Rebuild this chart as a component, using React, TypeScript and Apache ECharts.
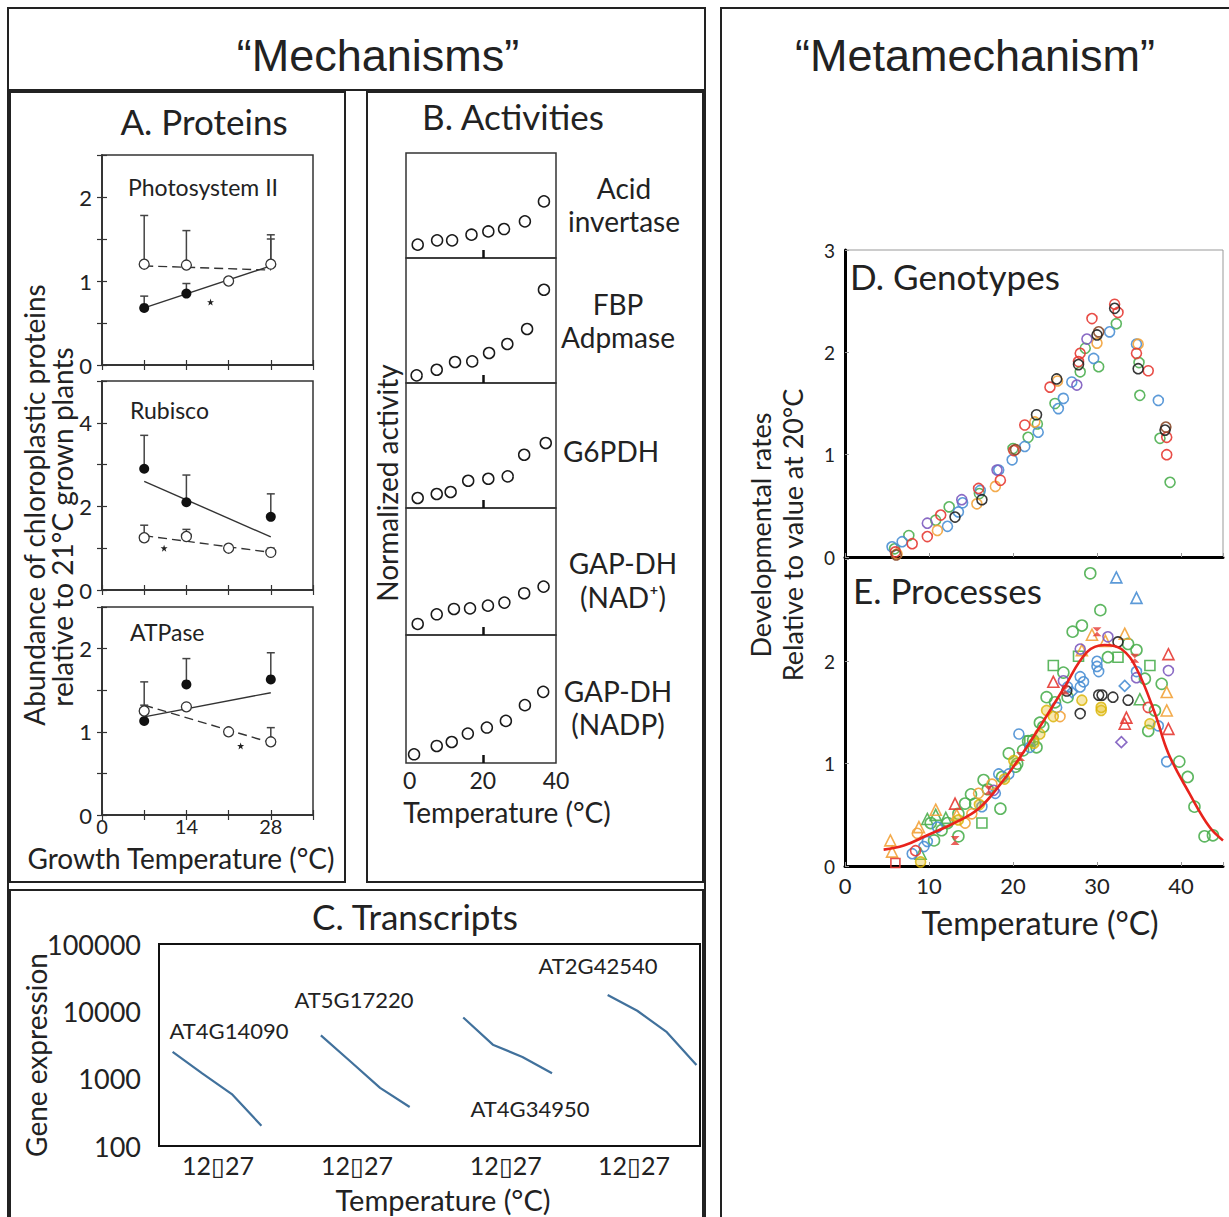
import React, { useEffect, useRef } from 'react';
import * as echarts from 'echarts';

const FONT = 'Lato, "Open Sans", sans-serif';
const ARIAL = '"Liberation Sans", Arial, sans-serif';
const INK = '#222';
const STAR = 'path://M5,0L6.2,3.6L10,3.6L7,5.9L8.1,9.5L5,7.3L1.9,9.5L3,5.9L0,3.6L3.8,3.6Z';
const HOURGLASS = 'path://M0,0L10,0L0,10L10,10Z';

// ---------- Panel A: Proteins ----------
const aXLabels = [0, 14, 28];
const psFilled = [[7, 0.68], [14, 0.85]];
const psOpen = [[7, 1.2], [14, 1.19], [21, 1.0], [28, 1.2]];
const psErr = [[7, 1.2, 1.78], [14, 1.19, 1.6], [28, 1.2, 1.55], [28, 1.2, 1.5], [7, 0.68, 0.82], [14, 0.85, 0.97]];
const psSolid = [[7, 0.68], [28, 1.18]];
const psDashed = [[7, 1.18], [28, 1.13]];
const psStar = [[18, 0.75]];
const psYLabels = [0, 1, 2];

const rubFilled = [[7, 2.9], [14, 2.1], [28, 1.75]];
const rubOpen = [[7, 1.25], [14, 1.28], [21, 1.0], [28, 0.9]];
const rubErr = [[7, 2.9, 3.7], [14, 2.1, 2.75], [28, 1.75, 2.3], [7, 1.25, 1.55], [14, 1.28, 1.45], [28, 0.9, 1.0]];
const rubSolid = [[7, 2.6], [28, 1.27]];
const rubDashed = [[7, 1.3], [28, 0.9]];
const rubStar = [[10.3, 1.0]];
const rubYLabels = [0, 2, 4];

const atpFilled = [[7, 1.13], [14, 1.57], [28, 1.63]];
const atpOpen = [[7, 1.25], [14, 1.3], [21, 1.0], [28, 0.88]];
const atpErr = [[7, 1.13, 1.6], [14, 1.57, 1.88], [28, 1.63, 1.95], [7, 1.25, 1.32], [28, 0.88, 1.05]];
const atpSolid = [[7, 1.18], [28, 1.47]];
const atpDashed = [[7, 1.32], [28, 0.87]];
const atpStar = [[23, 0.83]];
const atpYLabels = [0, 1, 2];

// ---------- Panel B: Activities ----------
const bNames = ['Acid\ninvertase', 'FBP\nAdpmase', 'G6PDH', 'GAP-DH\n(NAD⁺)', 'GAP-DH\n(NADP)'];
const bTemps = [
  [2.2, 7.5, 11.6, 16.9, 21.5, 25.8, 31.5, 36.7],
  [1.9, 7.4, 12.4, 17.1, 21.7, 26.7, 32.1, 36.7],
  [2.2, 7.4, 11.2, 16.0, 21.5, 26.8, 31.3, 37.2],
  [2.2, 7.4, 12.1, 16.5, 21.4, 25.9, 31.3, 36.6],
  [1.2, 7.4, 11.5, 15.9, 21.1, 26.3, 31.5, 36.5],
];
const bValues = [
  [1.27, 1.68, 1.68, 2.22, 2.53, 2.76, 3.49, 5.39],
  [0.61, 1.06, 1.68, 1.73, 2.4, 3.12, 4.32, 7.46],
  [0.8, 1.12, 1.28, 2.18, 2.34, 2.53, 4.26, 5.2],
  [0.87, 1.63, 2.05, 2.1, 2.31, 2.55, 3.29, 3.81],
  [0.68, 1.33, 1.64, 2.3, 2.77, 3.29, 4.52, 5.56],
];
const bXLabels = [0, 20, 40];

// ---------- Panel C: Transcripts ----------
const cGenes = ['AT4G14090', 'AT5G17220', 'AT4G34950', 'AT2G42540'];
const cSlotStart = [0.46, 5.47, 10.28, 15.16];
const cExpr = [
  [2500, 1200, 590, 200],
  [4400, 1800, 730, 380],
  [8100, 3200, 2100, 1200],
  [17500, 10200, 4900, 1600],
];
const cTempLabelSlots = [1.99, 6.69, 11.72, 16.05];
const cTempLabel = '12\u25AF27';

// ---------- Panel D: Genotypes ----------
const dRed = [[6.0, 0.05], [8.0, 0.13], [9.8, 0.2], [11.4, 0.41], [15.9, 0.67], [18.5, 0.75], [20.1, 1.04], [21.4, 1.29], [24.4, 1.66], [27.8, 1.91], [28.0, 1.99], [29.4, 2.33], [32.1, 2.47], [32.5, 2.39], [34.7, 1.99], [36.1, 1.82], [38.3, 1.17], [38.3, 1.0]];
const dOrange = [[6.2, 0.03], [11.0, 0.26], [15.7, 0.52], [17.9, 0.69], [22.6, 1.32], [25.3, 1.72], [30.0, 2.09], [34.9, 2.08]];
const dGreen = [[5.9, 0.08], [7.6, 0.21], [10.8, 0.36], [12.4, 0.49], [16.0, 0.62], [20.0, 1.06], [21.8, 1.17], [22.9, 1.3], [25.0, 1.5], [28.0, 1.81], [28.6, 2.04], [30.2, 1.86], [32.3, 2.28], [35.0, 1.9], [35.1, 1.58], [37.5, 1.16], [38.7, 0.73]];
const dBlue = [[5.6, 0.1], [6.8, 0.15], [12.2, 0.3], [13.5, 0.44], [14.0, 0.53], [16.1, 0.65], [18.3, 0.85], [19.9, 0.95], [21.4, 1.08], [23.0, 1.22], [25.4, 1.45], [26.0, 1.55], [27.0, 1.71], [29.6, 1.94], [31.5, 2.2], [34.7, 2.08], [37.3, 1.53]];
const dPurple = [[9.8, 0.33], [13.9, 0.56], [18.1, 0.85], [27.6, 1.68], [28.8, 2.13]];
const dBlack = [[13.1, 0.39], [16.3, 0.56], [22.8, 1.39], [25.2, 1.74], [27.8, 1.88], [30.0, 2.17], [32.1, 2.43], [34.9, 1.84], [38.1, 1.24]];
const dBrown = [[6.1, 0.02], [20.3, 1.05], [30.2, 2.2], [38.2, 1.27]];

// ---------- Panel E: Processes ----------
const eGreenCircle = [[29.2, 2.86], [30.4, 2.5], [28.2, 2.35], [27.1, 2.29], [33.7, 2.17], [34.7, 2.11], [31.3, 2.04], [35.7, 1.83], [37.7, 1.78], [36.9, 1.52], [36.1, 1.32], [39.8, 1.02], [40.8, 0.87], [41.6, 0.58], [42.8, 0.29], [43.8, 0.3], [26.0, 1.89], [24.0, 1.65], [23.6, 1.36], [22.4, 1.23], [22.8, 1.16], [21.2, 1.13], [20.3, 0.97], [18.7, 0.87], [16.5, 0.84], [15.5, 0.61], [18.5, 0.56], [14.3, 0.61], [13.5, 0.51], [12.2, 0.42], [10.2, 0.42], [13.5, 0.29], [10.6, 0.25], [19.5, 1.1], [21.8, 1.22], [23.2, 1.4], [25.0, 1.6], [17.0, 0.75], [15.0, 0.7], [20.5, 1.0], [26.5, 1.65], [11.5, 0.35]];
const eGreenTri = [[35.1, 1.63], [9.8, 0.46], [9.0, 0.12], [10.8, 0.5], [12.0, 0.47]];
const eGreenSq = [[32.5, 2.04], [36.3, 1.96], [24.8, 1.96], [16.3, 0.42], [22.0, 1.22], [27.8, 2.05]];
const eOrangeTri = [[29.4, 2.26], [33.3, 2.27], [28.2, 2.11], [38.3, 1.7], [38.3, 1.52], [10.8, 0.55], [8.8, 0.38], [5.4, 0.25], [5.6, 0.14], [13.3, 0.5], [31.0, 2.2]];
const eOrangeCircle = [[25.6, 1.46], [15.9, 0.71], [15.1, 0.51], [14.3, 0.42], [8.6, 0.32], [17.5, 0.8]];
const eYellow = [[28.2, 1.62], [30.5, 1.52], [30.5, 1.55], [36.3, 1.39], [24.8, 1.46], [24.0, 1.52], [23.2, 1.29], [20.1, 1.03], [13.5, 0.45], [9.0, 0.04], [16.0, 0.6], [19.0, 0.85], [22.5, 1.2]];
const eBlueCircle = [[28.0, 1.85], [28.0, 1.75], [28.4, 1.8], [30.0, 1.95], [30.2, 1.9], [30.0, 2.0], [25.2, 1.55], [22.0, 1.16], [20.7, 1.29], [19.5, 0.9], [18.3, 0.9], [17.9, 0.71], [16.3, 0.58], [11.0, 0.38], [9.8, 0.24], [9.4, 0.19], [8.0, 0.12], [37.3, 1.37], [38.3, 1.02], [34.7, 1.9], [26.5, 1.75]];
const eBlueTri = [[32.3, 2.82], [34.7, 2.62]];
const eBlueDiamond = [[33.3, 1.76], [27.0, 1.7]];
const eRedTri = [[38.5, 2.07], [38.5, 1.34], [33.3, 1.39], [24.8, 1.8], [13.1, 0.61], [33.5, 1.45]];
const eRedCross = [[30.0, 2.29], [34.5, 2.03], [20.9, 1.07], [17.1, 0.74], [13.1, 0.25], [26.2, 1.72]];
const eRedCircle = [[36.1, 1.55], [8.4, 0.15]];
const eRedSq = [[6.0, 0.03]];
const ePurpleCircle = [[31.3, 2.24], [28.0, 2.12], [38.5, 1.91], [26.0, 1.81], [17.7, 0.74], [34.7, 1.84]];
const ePurpleDiamond = [[32.9, 1.21]];
const eBlackCircle = [[32.5, 2.19], [33.7, 1.62], [31.9, 1.65], [30.2, 1.67], [30.6, 1.67], [28.0, 1.49], [26.4, 1.71]];
const eFit = [[4.6, 0.16], [7, 0.2], [9.8, 0.3], [13, 0.42], [15.9, 0.56], [18.5, 0.8], [20.9, 1.07], [23.5, 1.4], [26, 1.73], [28.8, 2.09], [30.9, 2.16], [32.9, 2.12], [34.7, 1.93], [36.9, 1.49], [38.5, 1.1], [41, 0.71], [43.4, 0.38], [45, 0.25]];

const C_RED = '#e53a33';
const C_ORANGE = '#f2a23a';
const C_GREEN = '#4caf50';
const C_BLUE = '#4a8fd4';
const C_PURPLE = '#7d5bbf';
const C_BLACK = '#222222';
const C_BROWN = '#8a4a2a';
const C_YELLOW = '#d9b300';

function errRender(params: any, api: any) {
  const x = api.value(0);
  const p1 = api.coord([x, api.value(1)]);
  const p2 = api.coord([x, api.value(2)]);
  const st = { stroke: '#444', lineWidth: 1.5 };
  return {
    type: 'group',
    children: [
      { type: 'line', shape: { x1: p1[0], y1: p1[1], x2: p2[0], y2: p2[1] }, style: st },
      { type: 'line', shape: { x1: p2[0] - 4, y1: p2[1], x2: p2[0] + 4, y2: p2[1] }, style: st },
    ],
  };
}

const txt = (text: string, x: number, y: number, size: number, opts: any = {}) => ({
  type: 'text',
  x,
  y,
  rotation: opts.rotation || 0,
  silent: true,
  style: {
    text,
    font: `${size}px ${opts.family || FONT}`,
    fill: INK,
    align: opts.align || 'center',
    verticalAlign: 'middle',
    lineHeight: opts.lineHeight || size * 1.2,
  },
});

const frame = (x: number, y: number, w: number, h: number) => ({
  type: 'rect',
  silent: true,
  shape: { x, y, width: w, height: h },
  style: { fill: 'none', stroke: INK, lineWidth: 2 },
});

function buildOption() {
  const tickLabel = (size: number) => ({ fontSize: size, fontFamily: FONT, color: INK, lineHeight: size });

  const aGrids = [
    { left: 102, top: 155, width: 211, height: 210 },
    { left: 102, top: 381, width: 211, height: 209 },
    { left: 102, top: 607, width: 211, height: 208 },
  ];
  const aY = [
    { max: 2.5, step: 0.5, labels: psYLabels },
    { max: 5, step: 1, labels: rubYLabels },
    { max: 2.5, step: 0.5, labels: atpYLabels },
  ];
  const bGrids = [
    { left: 406, top: 153, width: 150, height: 105 },
    { left: 406, top: 258, width: 150, height: 125 },
    { left: 406, top: 383, width: 150, height: 125 },
    { left: 406, top: 508, width: 150, height: 127 },
    { left: 406, top: 635, width: 150, height: 128 },
  ];

  const grids: any[] = [];
  const xAxes: any[] = [];
  const yAxes: any[] = [];
  const axLine = { show: true, lineStyle: { color: '#333', width: 1.5 } };
  const inTick = { show: true, inside: true, length: 5, lineStyle: { color: '#333', width: 1.2 } };

  aGrids.forEach((g) => {
    grids.push({ ...g, show: true, borderColor: '#333', borderWidth: 1.5, backgroundColor: 'transparent' });
  });
  aGrids.forEach((g, i) => {
    xAxes.push({
      type: 'value', gridIndex: i, min: 0, max: 35, interval: 7, position: 'bottom',
      axisLine: axLine, axisTick: inTick, splitLine: { show: false },
      axisLabel: { show: i === 2, margin: 1, ...tickLabel(20), formatter: (v: number) => (aXLabels.includes(v) ? String(v) : '') },
    });
    yAxes.push({
      type: 'value', gridIndex: i, min: 0, max: aY[i].max, interval: aY[i].step, position: 'left',
      axisLine: axLine, axisTick: inTick, splitLine: { show: false },
      axisLabel: { margin: 10, ...tickLabel(22), formatter: (v: number) => (aY[i].labels.includes(v) ? String(v) : '') },
    });
  });
  aGrids.forEach((g, i) => {
    xAxes.push({
      type: 'value', gridIndex: i, min: 0, max: 35, interval: 7, position: 'top',
      axisLine: axLine, axisTick: inTick, axisLabel: { show: false }, splitLine: { show: false },
    });
    yAxes.push({
      type: 'value', gridIndex: i, min: 0, max: aY[i].max, interval: aY[i].step, position: 'right',
      axisLine: axLine, axisTick: inTick, axisLabel: { show: false }, splitLine: { show: false },
    });
  });
  bGrids.forEach((g, r) => {
    grids.push({ ...g, show: true, borderColor: '#333', borderWidth: 1.5, backgroundColor: 'transparent' });
    const gi = 3 + r;
    xAxes.push({
      type: 'value', gridIndex: gi, min: -1, max: 40,
      axisLine: { show: false },
      axisTick: { show: true, inside: true, length: 8, customValues: [20], lineStyle: { color: '#111', width: 2.5 } },
      axisLabel: { show: r === 4, customValues: bXLabels, margin: 5, ...tickLabel(23) },
      splitLine: { show: false },
    });
    yAxes.push({
      type: 'value', gridIndex: gi, min: 0, max: 10,
      axisLine: { show: false }, axisTick: { show: false }, axisLabel: { show: false }, splitLine: { show: false },
    });
  });
  grids.push({ left: 159, top: 944, width: 541, height: 202, show: true, borderColor: '#111', borderWidth: 2, backgroundColor: 'transparent' });
  xAxes.push({
    type: 'value', gridIndex: 8, min: 0, max: 18.28,
    axisLine: { show: false }, axisTick: { show: false }, splitLine: { show: false },
    axisLabel: { customValues: cTempLabelSlots, formatter: () => cTempLabel, margin: 6, ...tickLabel(25) },
  });
  yAxes.push({
    type: 'log', logBase: 10, gridIndex: 8, min: 100, max: 100000,
    axisLine: { show: false }, axisTick: { show: false }, splitLine: { show: false },
    axisLabel: { margin: 18, ...tickLabel(27), formatter: (v: number) => String(Math.round(v)) },
  });
  const thick = { show: true, lineStyle: { color: '#000', width: 3 } };
  const smallTick = { show: true, inside: true, length: 4, lineStyle: { color: '#999', width: 1 } };
  grids.push({ left: 845, top: 250, width: 378, height: 307, show: true, borderColor: '#999', borderWidth: 1, backgroundColor: 'transparent' });
  xAxes.push({
    type: 'value', gridIndex: 9, min: 0, max: 45, interval: 10,
    axisLine: thick, axisTick: smallTick, axisLabel: { show: false }, splitLine: { show: false },
  });
  yAxes.push({
    type: 'value', gridIndex: 9, min: 0, max: 3, interval: 1,
    axisLine: thick, axisTick: smallTick, splitLine: { show: false },
    axisLabel: { margin: 10, ...tickLabel(19) },
  });
  grids.push({ left: 845, top: 559, width: 378, height: 307 });
  xAxes.push({
    type: 'value', gridIndex: 10, min: 0, max: 45, interval: 10,
    axisLine: thick, axisTick: smallTick, splitLine: { show: false },
    axisLabel: { margin: 8, ...tickLabel(22), formatter: (v: number) => (v % 10 === 0 ? String(v) : '') },
  });
  yAxes.push({
    type: 'value', gridIndex: 10, min: 0, max: 3, interval: 1,
    axisLine: thick, axisTick: smallTick, splitLine: { show: false },
    axisLabel: { margin: 10, ...tickLabel(19), formatter: (v: number) => (v < 3 ? String(v) : '') },
  });

  const series: any[] = [];
  const aData = [
    { filled: psFilled, open: psOpen, err: psErr, solid: psSolid, dashed: psDashed, star: psStar },
    { filled: rubFilled, open: rubOpen, err: rubErr, solid: rubSolid, dashed: rubDashed, star: rubStar },
    { filled: atpFilled, open: atpOpen, err: atpErr, solid: atpSolid, dashed: atpDashed, star: atpStar },
  ];
  aData.forEach((d, i) => {
    const ax = { xAxisIndex: i, yAxisIndex: i, silent: true };
    series.push({ type: 'line', ...ax, data: d.solid, symbol: 'none', lineStyle: { color: '#333', width: 1.4 }, z: 2 });
    series.push({ type: 'line', ...ax, data: d.dashed, symbol: 'none', lineStyle: { color: '#333', width: 1.4, type: [9, 5] }, z: 2 });
    series.push({ type: 'custom', ...ax, data: d.err, renderItem: errRender, encode: { x: 0, y: [1, 2] }, z: 3 });
    series.push({ type: 'scatter', ...ax, data: d.filled, symbol: 'circle', symbolSize: 10, itemStyle: { color: '#111', opacity: 1 }, z: 4 });
    series.push({ type: 'scatter', ...ax, data: d.open, symbol: 'circle', symbolSize: 10, itemStyle: { color: '#fff', borderColor: '#333', borderWidth: 1.3, opacity: 1 }, z: 5 });
    series.push({ type: 'scatter', ...ax, data: d.star, symbol: STAR, symbolSize: 7, itemStyle: { color: '#222', opacity: 1 }, z: 5 });
  });
  bValues.forEach((vals, r) => {
    series.push({
      type: 'scatter', xAxisIndex: 6 + r, yAxisIndex: 6 + r, silent: true,
      data: vals.map((v, k) => [bTemps[r][k], v]),
      symbol: 'circle', symbolSize: 11,
      itemStyle: { color: '#fff', borderColor: '#1a1a1a', borderWidth: 1.5, opacity: 1 },
    });
  });
  cExpr.forEach((vals, g) => {
    series.push({
      type: 'line', xAxisIndex: 11, yAxisIndex: 11, silent: true,
      data: vals.map((v, k) => [cSlotStart[g] + k, v]),
      symbol: 'none', lineStyle: { color: '#41719c', width: 2.2 },
    });
  });
  const open = (data: number[][], color: string, xi: number, symbol = 'circle', size = 10) => ({
    type: 'scatter', xAxisIndex: xi, yAxisIndex: xi, silent: true, data, symbol, symbolSize: size,
    itemStyle: { color: 'rgba(255,255,255,0)', borderColor: color, borderWidth: 1.6, opacity: 0.9 },
  });
  series.push(open(dGreen, C_GREEN, 12), open(dBlue, C_BLUE, 12), open(dOrange, C_ORANGE, 12), open(dPurple, C_PURPLE, 12),
    open(dRed, C_RED, 12), open(dBrown, C_BROWN, 12), open(dBlack, C_BLACK, 12));

  series.push(
    open(eGreenCircle, C_GREEN, 13, 'circle', 11),
    open(eGreenTri, C_GREEN, 13, 'triangle', 11),
    open(eGreenSq, C_GREEN, 13, 'rect', 10),
    open(eBlueCircle, C_BLUE, 13, 'circle', 10),
    open(eBlueTri, C_BLUE, 13, 'triangle', 11),
    open(eBlueDiamond, C_BLUE, 13, 'diamond', 11),
    open(eOrangeCircle, C_ORANGE, 13, 'circle', 10),
    open(eOrangeTri, C_ORANGE, 13, 'triangle', 11),
    open(ePurpleCircle, C_PURPLE, 13, 'circle', 10),
    open(ePurpleDiamond, C_PURPLE, 13, 'diamond', 11),
    open(eBlackCircle, C_BLACK, 13, 'circle', 10),
    open(eRedTri, C_RED, 13, 'triangle', 11),
    open(eRedCircle, C_RED, 13, 'circle', 10),
    open(eRedSq, C_RED, 13, 'rect', 9),
    {
      type: 'scatter', xAxisIndex: 13, yAxisIndex: 13, silent: true, data: eYellow, symbol: 'circle', symbolSize: 10,
      itemStyle: { color: 'rgba(230,190,30,0.45)', borderColor: C_YELLOW, borderWidth: 1.6 },
    },
    {
      type: 'scatter', xAxisIndex: 13, yAxisIndex: 13, silent: true, data: eRedCross, symbol: HOURGLASS, symbolSize: 9,
      itemStyle: { color: C_RED },
    },
    {
      type: 'line', xAxisIndex: 13, yAxisIndex: 13, silent: true, data: eFit, smooth: 0.4, symbol: 'none',
      lineStyle: { color: '#e8231c', width: 2.6 }, z: 6,
    },
  );

  const graphics: any[] = [
    frame(8, 8, 697, 1230),
    { type: 'line', silent: true, shape: { x1: 8, y1: 90, x2: 705, y2: 90 }, style: { stroke: INK, lineWidth: 2 } },
    frame(10, 92, 335, 790),
    frame(367, 92, 336, 790),
    frame(10, 890, 693, 340),
    frame(721, 8, 520, 1230),
    txt('\u201CMechanisms\u201D', 378, 55, 45, { family: ARIAL }),
    txt('\u201CMetamechanism\u201D', 975, 55, 45, { family: ARIAL }),
    txt('A. Proteins', 204, 121, 35),
    txt('B. Activities', 513, 116, 35),
    txt('C. Transcripts', 415, 916, 35),
    txt('Abundance of chloroplastic proteins', 34, 505, 28, { rotation: Math.PI / 2, lineHeight: 28 }),
    txt('relative to 21°C grown plants', 62, 527, 28, { rotation: Math.PI / 2, lineHeight: 28 }),
    txt('Photosystem II', 128, 187, 23, { align: 'left' }),
    txt('Rubisco', 130, 410, 23, { align: 'left' }),
    txt('ATPase', 130, 632, 23, { align: 'left' }),
    txt('Growth Temperature (°C)', 181, 858, 28, { lineHeight: 28 }),
    txt('Normalized activity', 387, 483, 28, { rotation: Math.PI / 2 }),
    txt('Temperature (°C)', 507, 812, 28, { lineHeight: 28 }),
    txt(bNames[0], 624, 204, 28, { lineHeight: 33 }),
    txt(bNames[1], 618, 320, 28, { lineHeight: 33 }),
    txt(bNames[2], 611, 451, 28),
    txt(bNames[3], 623, 580, 28, { lineHeight: 34 }),
    txt(bNames[4], 618, 707, 28, { lineHeight: 33 }),
    txt('Gene expression', 36, 1055, 28, { rotation: Math.PI / 2, lineHeight: 28 }),
    txt('Temperature (°C)', 443, 1199, 29, { lineHeight: 29 }),
    txt(cGenes[0], 229, 1030, 22),
    txt(cGenes[1], 354, 999, 22),
    txt(cGenes[2], 530, 1108, 22),
    txt(cGenes[3], 598, 965, 22),
    txt('Developmental rates', 760, 535, 27, { rotation: Math.PI / 2, lineHeight: 27 }),
    txt('Relative to value at 20°C', 792, 535, 27, { rotation: Math.PI / 2, lineHeight: 27 }),
    txt('Temperature (°C)', 1040, 922, 32, { lineHeight: 32 }),
    txt('D. Genotypes', 850, 276, 35, { align: 'left' }),
    txt('E. Processes', 853, 590, 35, { align: 'left' }),
  ];

  return {
    animation: false,
    backgroundColor: '#fff',
    grid: grids,
    xAxis: xAxes,
    yAxis: yAxes,
    series,
    graphic: graphics,
  };
}

export default function App() {
  const ref = useRef<HTMLDivElement>(null);
  useEffect(() => {
    if (!ref.current) return;
    const chart = echarts.init(ref.current, undefined, { renderer: 'svg' });
    chart.setOption(buildOption() as any);
    return () => chart.dispose();
  }, []);
  return <div ref={ref} style={{ position: 'absolute', left: 0, top: 0, width: 1229, height: 1217, background: '#fff' }} />;
}
